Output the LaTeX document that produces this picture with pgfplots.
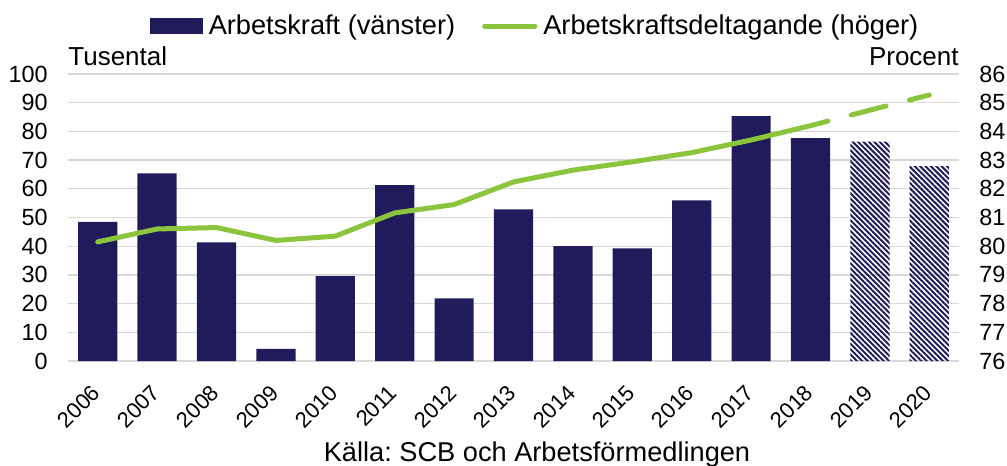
\documentclass[border=0pt]{standalone}
\usepackage{fontspec}
\setmainfont{Liberation Sans}
\usepackage{pgfplots}
\pgfplotsset{compat=1.18}
\usetikzlibrary{patterns.meta}
\definecolor{navy}{HTML}{201B5B}
\definecolor{lgreen}{HTML}{8DC43E}
\definecolor{gridgray}{HTML}{D9D9D9}
\frenchspacing
\begin{document}
\begin{tikzpicture}
\useasboundingbox (-34pt,-52.5pt) rectangle (469.5pt,180.5pt);
\begin{axis}[
  at={(0,0)}, anchor=south west,
  scale only axis, width=445.5pt, height=143.5pt,
  xmin=-0.5, xmax=14.5, ymin=0, ymax=100,
  xtick={0,...,14},
  xticklabels={2006,2007,2008,2009,2010,2011,2012,2013,2014,2015,2016,2017,2018,2019,2020},
  ytick={0,10,...,100},
  axis line style={draw=none},
  ymajorgrids, grid style={gridgray, line width=0.65pt},
  major tick length=0pt,
  tick label style={font=\fontsize{11.7}{14}\selectfont, inner sep=0pt},
  /pgf/number format/assume math mode=true,
  yticklabel style={anchor=east}, yticklabel shift=10pt,
  xticklabel style={font=\fontsize{11}{13}\selectfont, xshift=-3.5pt, rotate=45, anchor=north east}, xticklabel shift=11pt,
  ybar, bar width=0.66, bar shift=0pt,
  clip=false,
]
\addplot[fill=navy, draw=none] coordinates {
  (0,48.5) (1,65.4) (2,41.3) (3,4.2) (4,29.6) (5,61.3) (6,21.8)
  (7,52.8) (8,40.0) (9,39.2) (10,56.0) (11,85.3) (12,77.7)};
\addplot[draw=none, pattern={Lines[angle=-45,distance=1.9pt,line width=1pt]}, pattern color=navy] coordinates {
  (13,76.4) (14,67.9)};
\node[anchor=base west, font=\fontsize{13}{15}\selectfont, inner sep=0pt] at (rel axis cs:0,1) [yshift=4.2pt] {Tusental};
\node[anchor=base east, font=\fontsize{13}{15}\selectfont, inner sep=0pt] at (rel axis cs:1,1) [yshift=4.2pt] {Procent};
\node[anchor=base, font=\fontsize{13.6}{16}\selectfont, inner sep=0pt] at (rel axis cs:0.5264,0) [yshift=-50pt] {Källa: SCB och Arbetsförmedlingen};
\end{axis}
\begin{axis}[
  at={(0,0)}, anchor=south west,
  scale only axis, width=445.5pt, height=143.5pt,
  xmin=-0.5, xmax=14.5, ymin=76, ymax=86,
  ytick={76,77,...,86},
  axis x line=none, axis y line*=right,
  axis line style={draw=none},
  major tick length=0pt,
  tick label style={font=\fontsize{11.7}{14}\selectfont, inner sep=0pt},
  /pgf/number format/assume math mode=true,
  yticklabel style={anchor=west}, yticklabel shift=10pt,
  clip=false,
  legend columns=2,
  legend cell align=left,
  legend style={draw=none, fill=none, at={(0.092,1.167)}, anchor=west,
    inner sep=0pt, outer sep=0pt, font=\fontsize{13.6}{16}\selectfont,
    nodes={inner sep=0pt},
    /tikz/every odd column/.append style={column sep=3pt},
    /tikz/every even column/.append style={column sep=13.5pt}},
]
\addlegendimage{legend image code/.code={\fill[navy] (0pt,-3.65pt) rectangle (26pt,3.65pt);}}
\addlegendentry{Arbetskraft (vänster)}
\addplot[lgreen, line width=2.5pt, line cap=round, line join=round,
  legend image code/.code={\draw[lgreen, line width=2.5pt, line cap=round] (1.2pt,0pt) -- (26.3pt,0pt);}]
  coordinates {
  (0,80.15) (1,80.6) (2,80.65) (3,80.2) (4,80.35) (5,81.16) (6,81.45)
  (7,82.24) (8,82.65) (9,82.94) (10,83.26) (11,83.7) (12,84.2)};
\addlegendentry{Arbetskraftsdeltagande (höger)}
\addplot[lgreen, line width=2.5pt, line cap=round, dash pattern=on 18pt off 12pt, dash phase=9pt, forget plot]
  coordinates {(12,84.2) (13,84.74) (14,85.27)};
\end{axis}
\end{tikzpicture}
\end{document}
